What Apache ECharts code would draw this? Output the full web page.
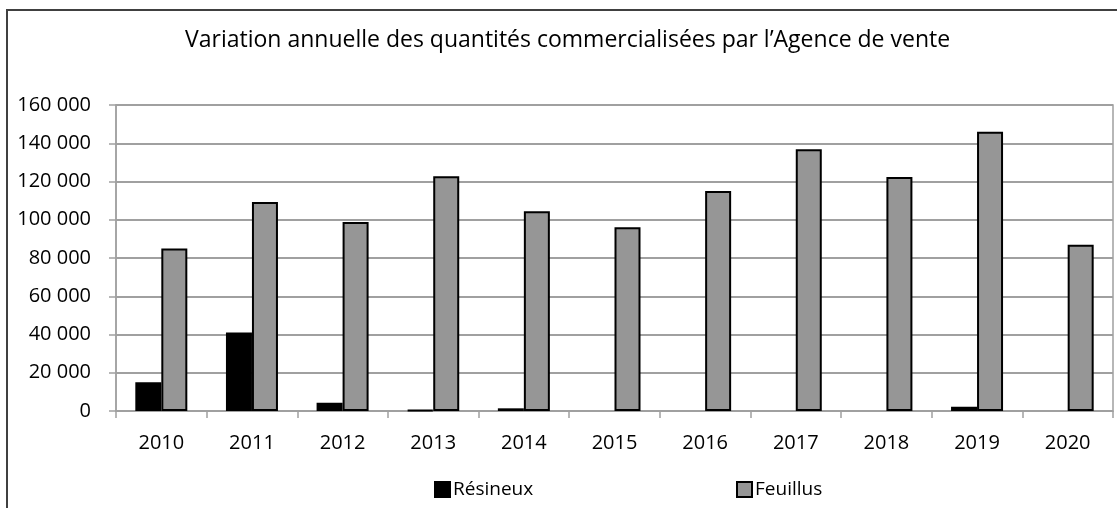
<!DOCTYPE html>
<html>
<head>
<meta charset="utf-8">
<script src="https://cdn.jsdelivr.net/npm/echarts@6/dist/echarts.min.js"></script>
<style>
  html, body { margin: 0; padding: 0; background: #fff; }
  #chart { width: 1117px; height: 508px; }
</style>
</head>
<body>
<div id="chart"></div>
<script>
// values
const years = ['2010', '2011', '2012', '2013', '2014', '2015', '2016', '2017', '2018', '2019', '2020'];
const resineux = [15000, 41000, 4300, 400, 1400, null, null, null, null, 2200, null];
const feuillus = [85000, 109300, 98800, 122800, 104400, 96100, 115000, 136800, 122300, 146000, 86900];

const FONT = 'Open Sans';
const GRID_GREY = '#a0a0a0';

const fmt = v => String(v).replace(/\B(?=(\d{3})+(?!\d))/g, ' ');

const LEGEND = {
  top: 480, padding: 0,
  itemWidth: 15, itemHeight: 15,
  icon: 'rect',
  textStyle: { fontFamily: FONT, fontSize: 19, color: '#000', padding: [0, 0, 0, -2] },
};

const c = echarts.init(document.getElementById('chart'), null, { renderer: 'canvas' });

c.setOption({
  animation: false,
  textStyle: { fontFamily: FONT, color: '#000' },
  graphic: [{
    type: 'rect',
    shape: { x: 7, y: 10, width: 1300, height: 700 },
    style: { fill: 'none', stroke: '#404040', lineWidth: 2 },
    silent: true,
  }],
  title: {
    text: 'Variation annuelle des quantités commercialisées par l’Agence de vente',
    left: 185, top: 29, padding: 0,
    textStyle: { fontFamily: FONT, fontSize: 23, fontWeight: 'normal', color: '#000' },
  },
  legend: [
    { ...LEGEND, left: 434, data: ['Résineux'] },
    { ...LEGEND, left: 736, data: ['Feuillus'] },
  ],
  grid: {
    left: 116, right: 4, top: 105, bottom: 97,
    show: true, borderColor: GRID_GREY, borderWidth: 1.5,
  },
  xAxis: {
    type: 'category', data: years,
    axisLine: { lineStyle: { color: GRID_GREY, width: 1.5 } },
    axisTick: { show: true, length: 7, lineStyle: { color: GRID_GREY, width: 1.5 } },
    axisLabel: { fontFamily: FONT, fontSize: 20, color: '#000', margin: 22 },
  },
  yAxis: {
    type: 'value', min: 0, max: 160000, interval: 20000,
    axisLine: { show: true, lineStyle: { color: GRID_GREY, width: 1.5 } },
    axisTick: { show: true, length: 7, lineStyle: { color: GRID_GREY, width: 1.5 } },
    splitLine: { lineStyle: { color: GRID_GREY, width: 2 } },
    axisLabel: { fontFamily: FONT, fontSize: 20, color: '#000', margin: 25, formatter: fmt },
  },
  series: [
    {
      name: 'Résineux', type: 'bar', data: resineux,
      barWidth: 26, barGap: '0%',
      itemStyle: { color: '#000', borderColor: '#000', borderWidth: 2 },
    },
    {
      name: 'Feuillus', type: 'bar', data: feuillus,
      barWidth: 26, barGap: '0%',
      itemStyle: { color: '#969696', borderColor: '#000', borderWidth: 2 },
    },
  ],
});
</script>
</body>
</html>
